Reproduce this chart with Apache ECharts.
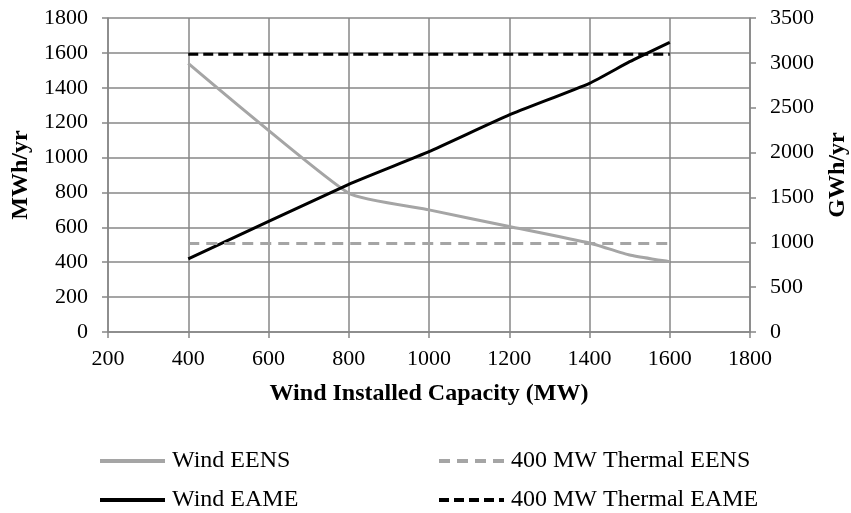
<!DOCTYPE html>
<html>
<head>
<meta charset="utf-8">
<title>Wind vs Thermal EENS / EAME</title>
<script src="https://cdn.jsdelivr.net/npm/echarts@6/dist/echarts.min.js"></script>
<style>
  html, body { margin: 0; padding: 0; background: #ffffff; }
  #chart { width: 851px; height: 513px; }
</style>
</head>
<body>
<div id="chart"></div>
<script>
// Installed wind capacity (MW) at which each series was evaluated
const capacity = [400, 800, 1000, 1200, 1400, 1500, 1600];
// Expected energy not supplied, MWh/yr (left axis)
const windEENS = [1540, 795, 700, 605, 510, 441, 403];
// Expected annual energy, GWh/yr (right axis)
const windEAME = [814, 1646, 2010, 2419, 2772, 3013, 3229];
// Reference 400 MW thermal unit, flat across the capacity range
const thermalX = [400, 1600];
const thermalEENS = [508, 508];
const thermalEAME = [3095, 3095];

const xTicks = { min: 200, max: 1800, step: 200 };
const leftTicks = { min: 0, max: 1800, step: 200 };
const rightTicks = { min: 0, max: 3500, step: 500 };

const FONT = '"Liberation Serif", "Times New Roman", serif';
const GRID = '#878787';
const GREY = '#a5a5a5';
const BLACK = '#000000';

const pairs = (xs, ys) => xs.map((x, i) => [x, ys[i]]);
const plain = v => String(v);

const chart = echarts.init(document.getElementById('chart'));

const tickLabel = { color: '#000', fontFamily: FONT, fontSize: 22, formatter: plain };
const axisTitle = { color: '#000', fontFamily: FONT, fontSize: 24, fontWeight: 'bold' };

// one small legend block per entry so the 2x2 layout is explicit;
// the marker symbol is hidden so only the line sample shows
const legendItem = (name, left, top) => ({
  show: true,
  orient: 'horizontal',
  left: left,
  top: top,
  padding: 0,
  itemWidth: 65,
  itemHeight: 14,
  data: [name],
  itemStyle: { color: 'rgba(0,0,0,0)', borderColor: 'rgba(0,0,0,0)', borderWidth: 0 },
  lineStyle: { width: 4 },
  textStyle: { color: '#000', fontFamily: FONT, fontSize: 24, padding: [0, 0, 0, 2] }
});

chart.setOption({
  animation: false,
  backgroundColor: '#ffffff',
  grid: { left: 108, right: 101, top: 18, bottom: 181, containLabel: false, outerBoundsMode: 'none' },
  legend: [
    legendItem('Wind EENS', 98, 449),
    legendItem('Wind EAME', 98, 488),
    legendItem('400 MW Thermal EENS', 437, 449),
    legendItem('400 MW Thermal EAME', 437, 488)
  ],
  xAxis: {
    type: 'value',
    min: xTicks.min, max: xTicks.max, interval: xTicks.step,
    name: 'Wind Installed Capacity (MW)',
    nameLocation: 'middle',
    nameGap: 50,
    nameTextStyle: axisTitle,
    axisLine: { show: true, lineStyle: { color: GRID, width: 1.5 } },
    axisTick: { show: true, inside: false, length: 6, lineStyle: { color: GRID, width: 1.5 } },
    axisLabel: Object.assign({ margin: 16 }, tickLabel),
    splitLine: { show: true, lineStyle: { color: GRID, width: 1.5 } }
  },
  yAxis: [
    {
      type: 'value',
      position: 'left',
      min: leftTicks.min, max: leftTicks.max, interval: leftTicks.step,
      name: 'MWh/yr',
      nameLocation: 'middle',
      nameGap: 70,
      nameRotate: 90,
      nameTextStyle: axisTitle,
      axisLine: { show: true, lineStyle: { color: GRID, width: 1.5 } },
      axisTick: { show: true, inside: false, length: 6, lineStyle: { color: GRID, width: 1.5 } },
      axisLabel: Object.assign({ margin: 20 }, tickLabel),
      splitLine: { show: true, lineStyle: { color: GRID, width: 1.5 } }
    },
    {
      type: 'value',
      position: 'right',
      min: rightTicks.min, max: rightTicks.max, interval: rightTicks.step,
      name: 'GWh/yr',
      nameLocation: 'middle',
      nameGap: 76,
      nameRotate: 90,
      nameTextStyle: axisTitle,
      axisLine: { show: true, lineStyle: { color: GRID, width: 1.5 } },
      axisTick: { show: true, inside: false, length: 6, lineStyle: { color: GRID, width: 1.5 } },
      axisLabel: Object.assign({ margin: 20 }, tickLabel),
      splitLine: { show: false }
    }
  ],
  series: [
    {
      name: 'Wind EENS', type: 'line', yAxisIndex: 0,
      data: pairs(capacity, windEENS),
      showSymbol: false, symbol: 'none', smooth: 0.15,
      itemStyle: { color: GREY },
      lineStyle: { color: GREY, width: 3 }
    },
    {
      name: 'Wind EAME', type: 'line', yAxisIndex: 1,
      data: pairs(capacity, windEAME),
      showSymbol: false, symbol: 'none', smooth: 0.15,
      itemStyle: { color: BLACK },
      lineStyle: { color: BLACK, width: 3 }
    },
    {
      name: '400 MW Thermal EENS', type: 'line', yAxisIndex: 0,
      data: pairs(thermalX, thermalEENS),
      showSymbol: false, symbol: 'none',
      itemStyle: { color: GREY },
      lineStyle: { color: GREY, width: 3, type: [11, 7] }
    },
    {
      name: '400 MW Thermal EAME', type: 'line', yAxisIndex: 1,
      data: pairs(thermalX, thermalEAME),
      showSymbol: false, symbol: 'none',
      itemStyle: { color: BLACK },
      lineStyle: { color: BLACK, width: 3, type: [10, 5] }
    }
  ]
});
</script>
</body>
</html>
